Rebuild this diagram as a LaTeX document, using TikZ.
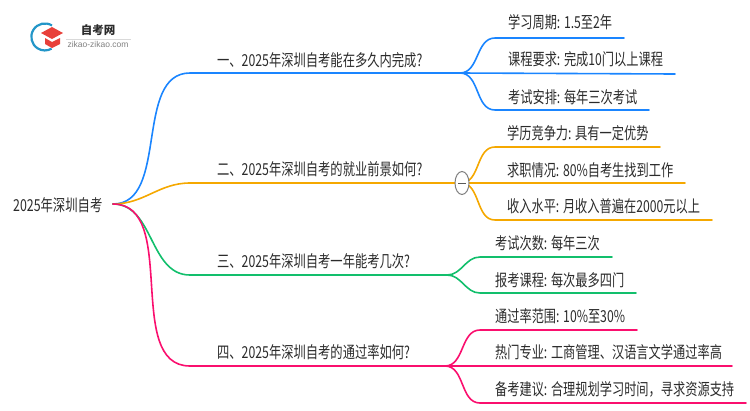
\documentclass[tikz,border=0pt]{standalone}
\usepackage{fontspec}
\usetikzlibrary{shapes.geometric}
\setmainfont{Noto Sans CJK SC}
\newfontfamily\latinfont{Liberation Sans}
\definecolor{blueLine}{HTML}{1A85FF}
\definecolor{orangeLine}{HTML}{F5A800}
\definecolor{greenLine}{HTML}{12BF6C}
\definecolor{pinkLine}{HTML}{FA0F6E}
\definecolor{inkText}{HTML}{2B2B2B}
\definecolor{logoBlue}{HTML}{2396C8}
\definecolor{logoRed}{HTML}{E8403A}
\tikzset{
	rootText/.style={anchor=west, inner sep=0pt, text=inkText, font=\fontsize{16.5}{16.5}\selectfont, xscale=.75, transform shape},
	branchText/.style={anchor=west, inner sep=0pt, text=inkText, font=\fontsize{16.5}{16.5}\selectfont, xscale=.745, transform shape},
	leafText/.style={anchor=west, inner sep=0pt, text=inkText, font=\fontsize{16.5}{16.5}\selectfont, xscale=.74, transform shape},
	mainCurve/.style={line width=1.6pt, line cap=round},
	leafCurve/.style={line width=1.6pt, line cap=round},
}
\begin{document}
\begin{tikzpicture}[x=1pt,y=-1pt]
		\useasboundingbox (0,0) rectangle (750,410);
		
		%Logo
		\draw[logoBlue, line width=2.2pt] (52,25.5) arc (-58:-300:13.5);
		\fill[logoRed] (41,33) -- (52,27) -- (63,33) -- (52,39) -- cycle;
		\fill[logoRed] (45,38) -- (52,42) -- (60,38) -- (60,44) -- (52,48) -- (45,44) -- cycle;
		\node (logoName) at (98,30.5) [text=inkText, inner sep=0pt, font=\fontsize{11.5}{11.5}\selectfont\bfseries] {自考网};
		\node (logoSite) at (98,44.5) [text=gray, inner sep=0pt, font=\latinfont\fontsize{8.5}{8.5}\selectfont] {zikao-zikao.com};
		\draw[gray!30, line width=.4pt] (66,39) -- (131,39);
		
		%Root
		\node (rootText) at (13,205) [rootText] {2025年深圳自考};
		\coordinate (rootEnd) at (113,204);
		
		%Branch ends
		\coordinate (firstStart) at (190,73);
		\coordinate (firstHub) at (460,73);
		\coordinate (secondStart) at (190,183);
		\coordinate (secondHub) at (461,183);
		\coordinate (thirdStart) at (190,275);
		\coordinate (thirdHub) at (447,275);
		\coordinate (fourthStart) at (190,366);
		\coordinate (fourthHub) at (445,366);
		
		%Main curves
		\draw[mainCurve, blueLine] (rootEnd) to[out=0, in=180, looseness=.95] (firstStart) -- (firstHub);
		\draw[mainCurve, orangeLine] (rootEnd) to[out=0, in=180] (secondStart) -- (secondHub);
		\draw[mainCurve, greenLine] (rootEnd) to[out=0, in=180] (thirdStart) -- (thirdHub);
		\draw[mainCurve, pinkLine] (rootEnd) to[out=0, in=180, looseness=.95] (fourthStart) -- (fourthHub);
		
		%Branch texts
		\node (firstBranch) at (217,60) [branchText] {一、2025年深圳自考能在多久内完成?};
		\node (secondBranch) at (217,169) [branchText] {二、2025年深圳自考的就业前景如何?};
		\node (thirdBranch) at (217,261) [branchText] {三、2025年深圳自考一年能考几次?};
		\node (fourthBranch) at (217,352) [branchText] {四、2025年深圳自考的通过率如何?};
		
		%Leaf ends
		\coordinate (leafA) at (495,38);
		\coordinate (leafAEnd) at (624,38);
		\coordinate (leafB) at (675,74);
		\coordinate (leafC) at (495,110);
		\coordinate (leafCEnd) at (649,110);
		\coordinate (leafD) at (495,147);
		\coordinate (leafDEnd) at (660,147);
		\coordinate (leafE) at (685,183);
		\coordinate (leafF) at (495,220);
		\coordinate (leafFEnd) at (712,220);
		\coordinate (leafG) at (480,257);
		\coordinate (leafGEnd) at (612,257);
		\coordinate (leafH) at (480,293);
		\coordinate (leafHEnd) at (636,293);
		\coordinate (leafI) at (480,330);
		\coordinate (leafIEnd) at (637,330);
		\coordinate (leafJ) at (732,366);
		\coordinate (leafK) at (480,403);
		\coordinate (leafKEnd) at (746,403);
		
		%Leaf curves
		\draw[leafCurve, blueLine] (firstHub) to[out=0, in=180] (leafA) -- (leafAEnd);
		\draw[leafCurve, blueLine] (firstHub) -- (leafB);
		\draw[leafCurve, blueLine] (firstHub) to[out=0, in=180] (leafC) -- (leafCEnd);
		\draw[leafCurve, orangeLine] (secondHub) to[out=0, in=180] (leafD) -- (leafDEnd);
		\draw[leafCurve, orangeLine] (secondHub) -- (leafE);
		\draw[leafCurve, orangeLine] (secondHub) to[out=0, in=180] (leafF) -- (leafFEnd);
		\draw[leafCurve, greenLine] (thirdHub) to[out=0, in=180] (leafG) -- (leafGEnd);
		\draw[leafCurve, greenLine] (thirdHub) to[out=0, in=180] (leafH) -- (leafHEnd);
		\draw[leafCurve, pinkLine] (fourthHub) to[out=0, in=180] (leafI) -- (leafIEnd);
		\draw[leafCurve, pinkLine] (fourthHub) -- (leafJ);
		\draw[leafCurve, pinkLine] (fourthHub) to[out=0, in=180] (leafK) -- (leafKEnd);
		
		%Leaf texts
		\node (textA) at (508,22.5) [leafText] {学习周期: 1.5至2年};
		\node (textB) at (508,59.5) [leafText] {课程要求: 完成10门以上课程};
		\node (textC) at (508,97) [leafText] {考试安排: 每年三次考试};
		\node (textD) at (507,133) [leafText] {学历竞争力: 具有一定优势};
		\node (textE) at (507,170) [leafText] {求职情况: 80\%自考生找到工作};
		\node (textF) at (507,206) [leafText] {收入水平: 月收入普遍在2000元以上};
		\node (textG) at (495,243) [leafText] {考试次数: 每年三次};
		\node (textH) at (495,280) [leafText] {报考课程: 每次最多四门};
		\node (textI) at (495,316) [leafText] {通过率范围: 10\%至30\%};
		\node (textJ) at (495,352) [leafText] {热门专业: 工商管理、汉语言文学通过率高};
		\node (textK) at (495,389) [leafText] {备考建议: 合理规划学习时间，寻求资源支持};
		
		%Toggle
		\node (toggleCircle) at (462,183) [ellipse, draw=gray, line width=1pt, fill=white, minimum width=14pt, minimum height=23pt, inner sep=0pt] {};
		\draw[gray!70!black, line width=1pt] (458,183) -- (466,183);
		
\end{tikzpicture}
\end{document}
